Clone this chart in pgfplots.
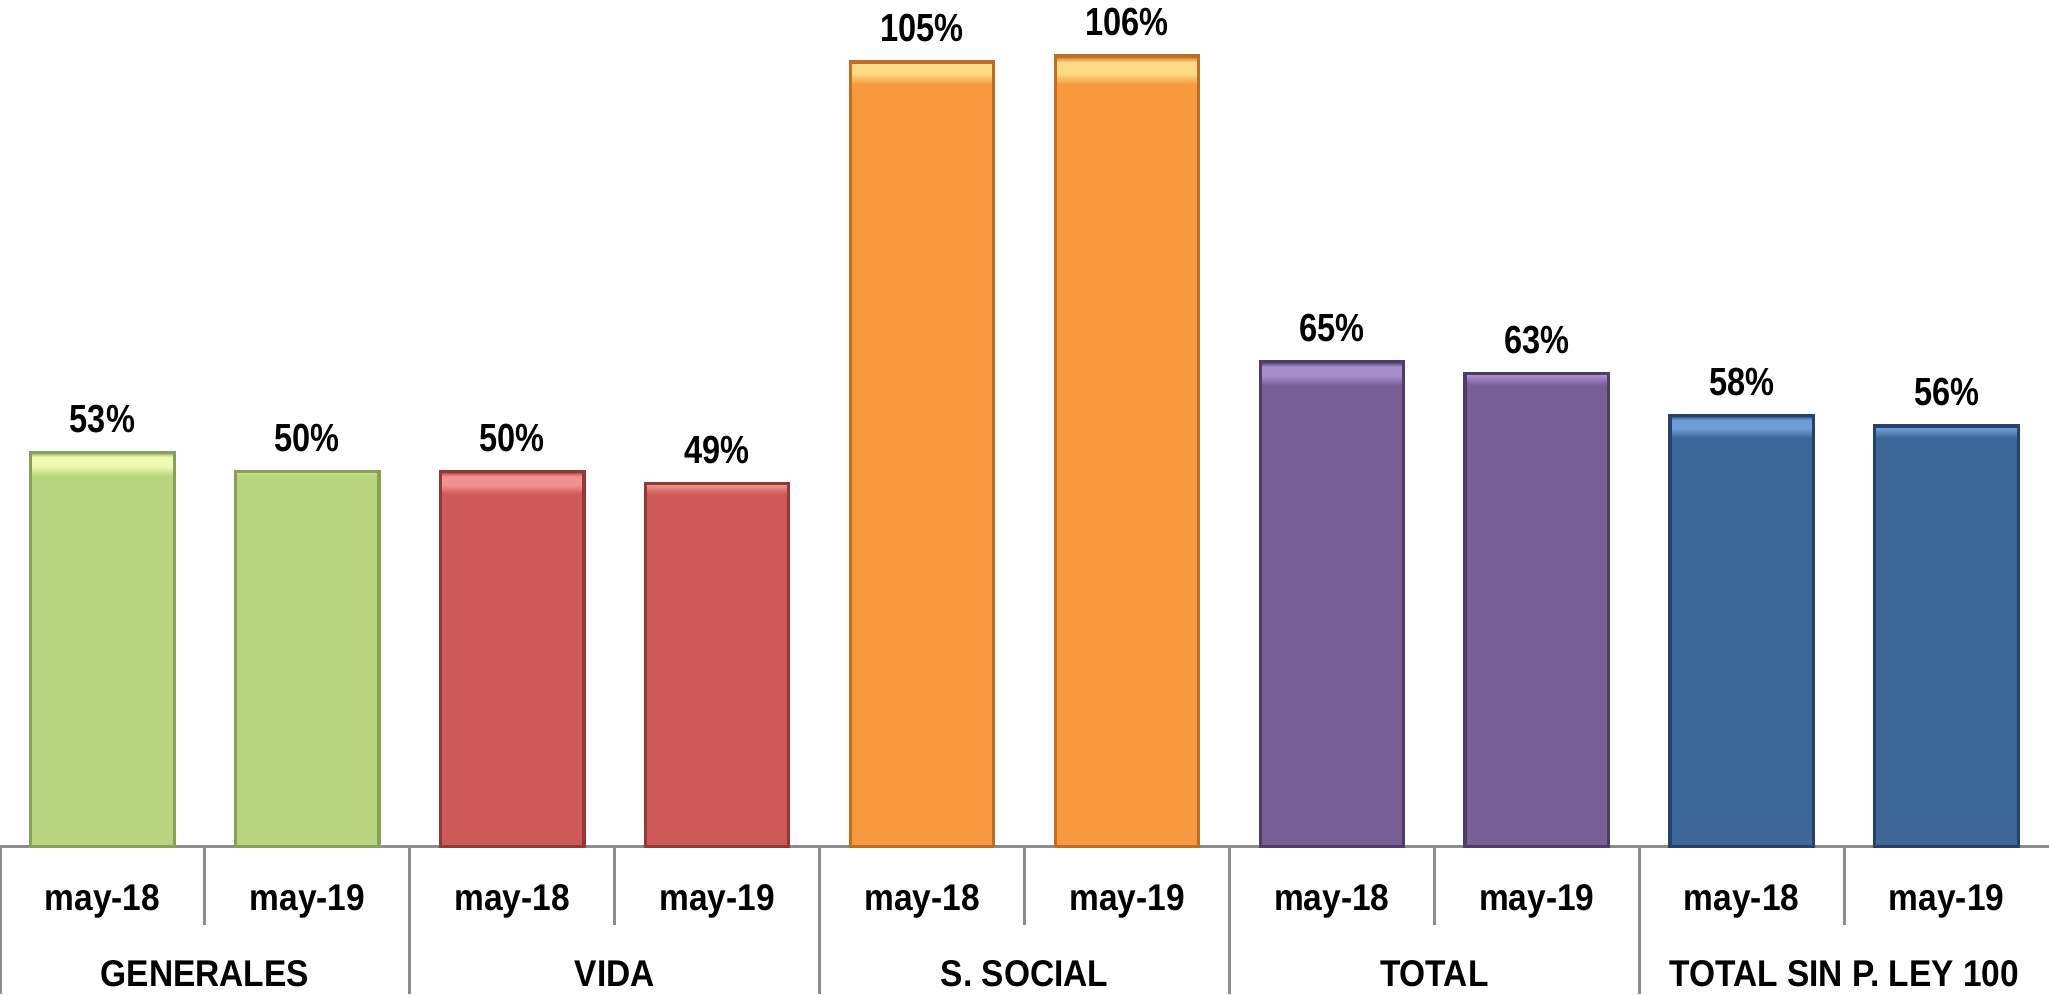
\documentclass[border=0pt]{standalone}
\usepackage{fontspec}
\setmainfont{Liberation Sans}
\newfontfamily\tickfam[FakeStretch=0.9]{Liberation Sans}
\newfontfamily\datafam[FakeStretch=0.83]{Liberation Sans}
\usepackage{pgfplots}
\pgfplotsset{compat=1.18}
\definecolor{cGreen}{HTML}{B7D47E}
\definecolor{cGreenL}{HTML}{EEFBB0}
\definecolor{cGreenD}{HTML}{88A058}
\definecolor{cRed}{HTML}{CD5A58}
\definecolor{cRedL}{HTML}{F39191}
\definecolor{cRedD}{HTML}{953838}
\definecolor{cOrange}{HTML}{F8993F}
\definecolor{cOrangeL}{HTML}{FFDA85}
\definecolor{cOrangeD}{HTML}{BF6E26}
\definecolor{cPurple}{HTML}{775E95}
\definecolor{cPurpleL}{HTML}{A88FCB}
\definecolor{cPurpleD}{HTML}{4F3D69}
\definecolor{cBlue}{HTML}{3D6798}
\definecolor{cBlueL}{HTML}{6F9BD6}
\definecolor{cBlueD}{HTML}{26426A}
\definecolor{axisgray}{HTML}{8C8C8C}
\pgfdeclareverticalshading{bevG}{100bp}{color(0bp)=(cGreen); color(72bp)=(cGreen); color(73.2bp)=(cGreenL); color(74.4bp)=(cGreenL); color(75bp)=(cGreenD); color(100bp)=(cGreenD)}
\pgfdeclareverticalshading{bevR}{100bp}{color(0bp)=(cRed); color(72bp)=(cRed); color(73.2bp)=(cRedL); color(74.4bp)=(cRedL); color(75bp)=(cRedD); color(100bp)=(cRedD)}
\pgfdeclareverticalshading{bevO}{100bp}{color(0bp)=(cOrange); color(73.2bp)=(cOrange); color(73.9bp)=(cOrangeL); color(74.6bp)=(cOrangeL); color(75bp)=(cOrangeD); color(100bp)=(cOrangeD)}
\pgfdeclareverticalshading{bevP}{100bp}{color(0bp)=(cPurple); color(72.6bp)=(cPurple); color(73.6bp)=(cPurpleL); color(74.5bp)=(cPurpleL); color(75bp)=(cPurpleD); color(100bp)=(cPurpleD)}
\pgfdeclareverticalshading{bevB}{100bp}{color(0bp)=(cBlue); color(72.4bp)=(cBlue); color(73.5bp)=(cBlueL); color(74.5bp)=(cBlueL); color(75bp)=(cBlueD); color(100bp)=(cBlueD)}
\newcommand{\lblfont}{\tickfam\bfseries\fontsize{9.3}{11}\selectfont}
\newcommand{\datfont}{\datafam\bfseries\fontsize{9.8}{11}\selectfont}
\begin{document}
\begin{tikzpicture}
\begin{axis}[name=ax, at={(0,0)}, anchor=south west,
  width=512.25pt, height=211.7pt, scale only axis,
  xmin=-0.5, xmax=9.5, ymin=0, ymax=113.5,
  hide y axis,
  axis x line*=bottom,
  x axis line style={-, draw=axisgray, line width=0.75pt},
  xtick={0,...,9},
  xticklabels={may-18,may-19,may-18,may-19,may-18,may-19,may-18,may-19,may-18,may-19},
  major tick length=0pt,
  minor xtick={0.5,2.5,4.5,6.5,8.5}, minor tick length=19.6pt,
  extra x ticks={-0.5,1.5,3.5,5.5,7.5}, extra x tick labels={},
  extra x tick style={major tick length=36.9pt},
  tick align=outside, xtick pos=bottom,
  tick style={draw=axisgray, line width=0.75pt},
  xticklabel style={font=\lblfont, anchor=center, yshift=-13.7pt},
  ybar, bar width=0.7, bar shift=0pt,
  nodes near coords, point meta=explicit symbolic,
  every node near coord/.append style={font=\datfont, anchor=base, yshift=5pt, inner sep=0pt},
  clip=false,
  mybar/.style={bar shift=0pt, line width=0.8pt, shade},
]
\addplot[mybar, shading=bevG, draw=cGreenD] coordinates {(0,52.9) [53\%] (1,50.3) [50\%]};
\addplot[mybar, shading=bevR, draw=cRedD] coordinates {(2,50.3) [50\%] (3,48.7) [49\%]};
\addplot[mybar, shading=bevO, draw=cOrangeD] coordinates {(4,105.2) [105\%] (5,106.0) [106\%]};
\addplot[mybar, shading=bevP, draw=cPurpleD] coordinates {(6,65.0) [65\%] (7,63.4) [63\%]};
\addplot[mybar, shading=bevB, draw=cBlueD] coordinates {(8,57.8) [58\%] (9,56.4) [56\%]};
\node[font=\lblfont] at (axis cs:0.5,0) [yshift=-31.7pt] {GENERALES};
\node[font=\lblfont] at (axis cs:2.5,0) [yshift=-31.7pt] {VIDA};
\node[font=\lblfont] at (axis cs:4.5,0) [yshift=-31.7pt] {S. SOCIAL};
\node[font=\lblfont] at (axis cs:6.5,0) [yshift=-31.7pt] {TOTAL};
\node[font=\lblfont] at (axis cs:8.5,0) [yshift=-31.7pt] {TOTAL SIN P. LEY 100};
\end{axis}
\pgfresetboundingbox
\path (ax.south west) ++(0,-36.9pt) rectangle (ax.north east);
\end{tikzpicture}
\end{document}
